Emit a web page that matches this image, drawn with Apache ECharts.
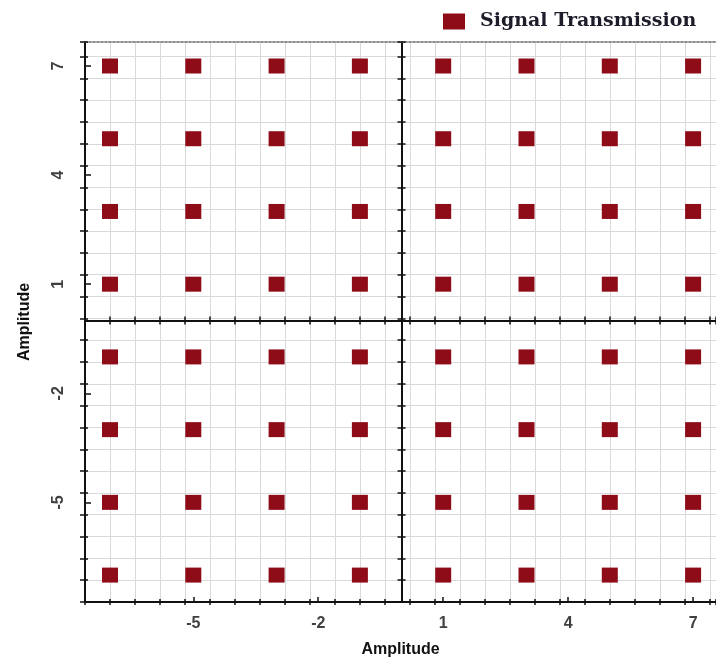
<!DOCTYPE html>
<html>
<head>
<meta charset="utf-8">
<script src="https://cdn.jsdelivr.net/npm/echarts@6/dist/echarts.min.js"></script>
<style>
  html, body { margin: 0; padding: 0; background: #fff; }
  #chart { width: 716px; height: 661px; }
</style>
</head>
<body>
<div id="chart"></div>
<script>
// 64-point constellation: every in-phase level paired with every quadrature level
const inPhaseLevels = [-7, -5, -3, -1, 1, 3, 5, 7];
const quadratureLevels = [7, 5, 3, 1, -1, -3, -5, -7];
const xTickValues = [-5, -2, 1, 4, 7];
const yTickValues = [-5, -2, 1, 4, 7];
const seriesName = 'Signal Transmission';
const axisTitle = 'Amplitude';

const points = [];
quadratureLevels.forEach(q => inPhaseLevels.forEach(i => points.push([i, q])));

const X_RANGE = [-7.6, 7.55];
const Y_RANGE = [-7.74, 7.66];
// Fine grid every 0.6, aligned to the labelled values (1 + k*0.6).
// Helper axes run shifted by GRID_SHIFT so their multiples of 0.6 land there.
const GRID_STEP = 0.6;
const GRID_SHIFT = 1;

const INK = '#111111';
const LABEL_FONT = 'Liberation Sans';
const MARK_COLOR = '#8e0c18';

function shifted(range) {
  return [range[0] - GRID_SHIFT, range[1] - GRID_SHIFT];
}

// Axis carrying only the fine grid lines / fine tick marks
function fineAxis(range, opts) {
  const r = shifted(range);
  return {
    type: 'value',
    position: opts.position,
    min: r[0],
    max: r[1],
    interval: GRID_STEP,
    silent: true,
    axisLine: {
      show: !!opts.line,
      onZero: !!opts.onZero,
      onZeroAxisIndex: 0,
      lineStyle: { color: INK, width: 2 }
    },
    axisLabel: { show: false },
    axisTick: {
      show: !!opts.tick,
      inside: !!opts.inside,
      length: opts.tickLen || 4,
      lineStyle: { color: INK, width: 1.5 }
    },
    splitLine: {
      show: !!opts.split,
      showMinLine: false,
      showMaxLine: false,
      lineStyle: { color: '#d9d9d9', width: 1 }
    }
  };
}

const labelStyle = {
  fontFamily: LABEL_FONT,
  fontSize: 16,
  fontWeight: 'bold',
  color: '#404040'
};
const nameStyle = {
  fontFamily: LABEL_FONT,
  fontSize: 16,
  fontWeight: 'bold',
  color: INK
};

const chart = echarts.init(document.getElementById('chart'), null, { renderer: 'canvas' });

chart.setOption({
  animation: false,
  backgroundColor: '#ffffff',
  grid: {
    left: 85, right: 0, top: 42, bottom: 59,
    containLabel: false,
    outerBoundsMode: 'none'
  },
  legend: {
    left: 443,
    top: 12,
    padding: 0,
    itemWidth: 22,
    itemHeight: 16,
    icon: 'rect',
    data: [seriesName],
    itemStyle: { color: MARK_COLOR, opacity: 1 },
    textStyle: {
      fontFamily: 'DejaVu Serif',
      fontWeight: 'bold',
      fontSize: 19,
      color: '#1c1c2a',
      padding: [0, 0, 0, 10]
    }
  },
  xAxis: [
    {
      type: 'value',
      position: 'bottom',
      min: X_RANGE[0],
      max: X_RANGE[1],
      name: axisTitle,
      nameLocation: 'middle',
      nameGap: 40,
      nameTextStyle: nameStyle,
      axisLine: { onZero: false, lineStyle: { color: INK, width: 2 } },
      axisTick: { customValues: xTickValues, inside: true, length: 5, lineStyle: { color: INK, width: 1.5 } },
      axisLabel: Object.assign({ customValues: xTickValues, margin: 14 }, labelStyle),
      splitLine: { show: false }
    },
    fineAxis(X_RANGE, { position: 'bottom', split: true, tick: true, inside: true, tickLen: 3 }),
    fineAxis(X_RANGE, { position: 'bottom', tick: true, inside: false, tickLen: 3 }),
    {
      type: 'value',
      position: 'top',
      min: X_RANGE[0],
      max: X_RANGE[1],
      axisLine: { onZero: false, lineStyle: { color: '#8f8f8f', width: 2, type: 'dotted' } },
      axisTick: { show: false },
      axisLabel: { show: false },
      splitLine: { show: false }
    },
    // horizontal centre line through zero
    fineAxis(X_RANGE, { position: 'bottom', line: true, onZero: true, tick: true, inside: true, tickLen: 4 }),
    fineAxis(X_RANGE, { position: 'bottom', line: true, onZero: true, tick: true, inside: false, tickLen: 4 })
  ],
  yAxis: [
    {
      type: 'value',
      position: 'left',
      min: Y_RANGE[0],
      max: Y_RANGE[1],
      name: axisTitle,
      nameLocation: 'middle',
      nameGap: 52,
      nameRotate: 90,
      nameTextStyle: nameStyle,
      axisLine: { onZero: false, lineStyle: { color: INK, width: 2 } },
      axisTick: { customValues: yTickValues, inside: true, length: 6, lineStyle: { color: INK, width: 1.5 } },
      axisLabel: Object.assign({ customValues: yTickValues, margin: 18, rotate: 90 }, labelStyle),
      splitLine: { show: false }
    },
    fineAxis(Y_RANGE, { position: 'left', split: true, tick: true, inside: true, tickLen: 3 }),
    fineAxis(Y_RANGE, { position: 'left', tick: true, inside: false, tickLen: 5 }),
    // vertical centre line through zero
    fineAxis(Y_RANGE, { position: 'left', line: true, onZero: true, tick: true, inside: true, tickLen: 4 }),
    fineAxis(Y_RANGE, { position: 'left', line: true, onZero: true, tick: true, inside: false, tickLen: 4 })
  ],
  series: [
    {
      name: seriesName,
      type: 'scatter',
      xAxisIndex: 0,
      yAxisIndex: 0,
      symbol: 'rect',
      symbolSize: [16, 15],
      itemStyle: { color: MARK_COLOR, opacity: 1 },
      data: points,
      z: 5
    }
  ]
});
</script>
</body>
</html>
